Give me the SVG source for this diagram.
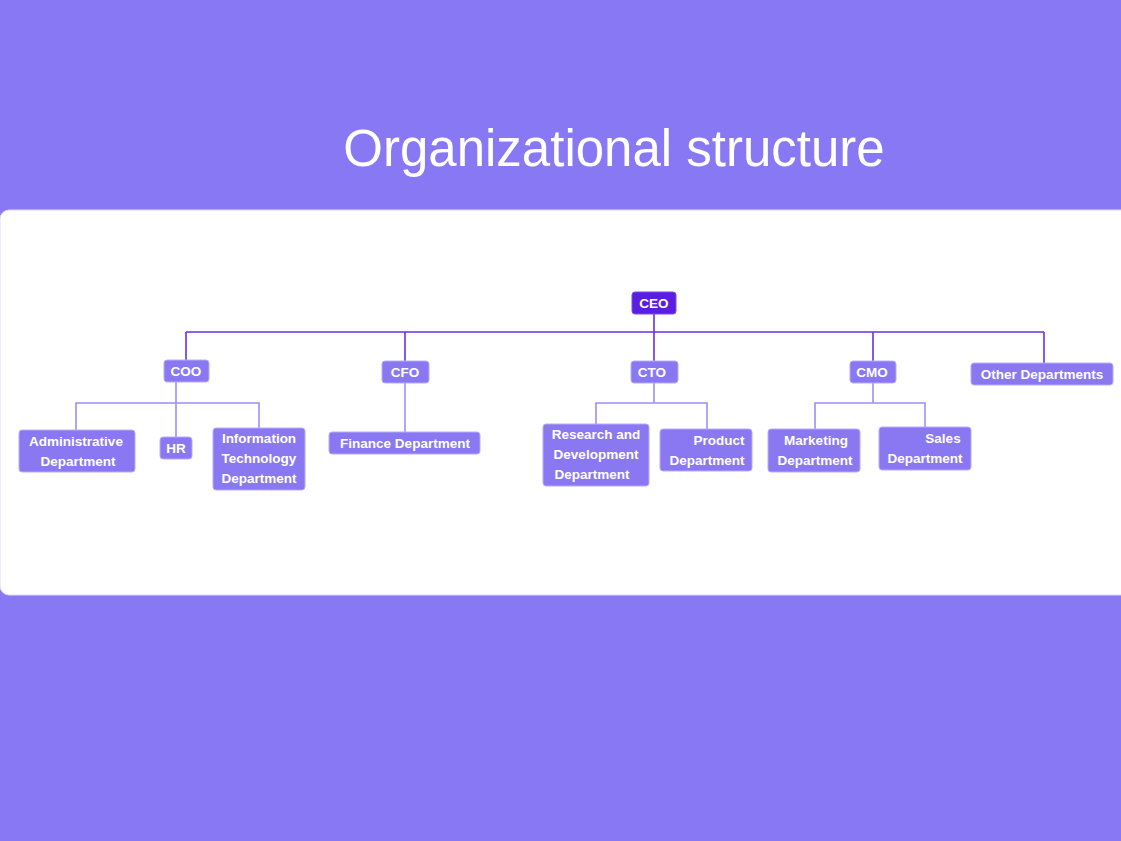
<svg xmlns="http://www.w3.org/2000/svg" width="1121" height="841" viewBox="0 0 1121 841">
<style>
.b{fill:#8a78f2;stroke:#b7acf8;stroke-width:1}
.t{fill:#fff;font-family:"Liberation Sans",Arial,sans-serif;font-weight:bold;font-size:13.5px;text-anchor:middle}
.m{stroke:#6a2fe8;stroke-width:1.6;fill:none}
.s{stroke:#9d8ff5;stroke-width:1.6;fill:none}
</style>
<rect width="1121" height="841" fill="#8878f3"/>
<rect x="0" y="210" width="1140" height="385" rx="9" fill="#fff" stroke="#ddd8fb"/>
<text x="614" y="166" font-family="Liberation Sans,Arial,sans-serif" font-size="51" fill="#fff" text-anchor="middle">Organizational structure</text>
<g id="connectors">
<path class="m" d="M186 332H1044M654 314V361M186 332V360M405 332V361M873 332V361M1044 332V363"/>
<path class="s" d="M176 382V437M76 430V403H259V428M405 383V432M654 383V403M596 424V403H707V429M873 383V403M815 429V403H925V427"/>
</g>
<g id="ceo"><rect x="632" y="292" width="44" height="22" rx="3" fill="#5a1ee0" stroke="#7a4cf0"/><text class="t" x="654" y="308">CEO</text></g>
<g id="coo"><rect class="b" x="164" y="360" width="45" height="22" rx="3"/><text class="t" x="186" y="376">COO</text></g>
<g id="cfo"><rect class="b" x="382" y="361" width="47" height="22" rx="3"/><text class="t" x="405" y="377">CFO</text></g>
<g id="cto"><rect class="b" x="631" y="361" width="47" height="22" rx="3"/><text class="t" x="652" y="377">CTO</text></g>
<g id="cmo"><rect class="b" x="850" y="361" width="46" height="22" rx="3"/><text class="t" x="872" y="377">CMO</text></g>
<g id="other"><rect class="b" x="971" y="363" width="142" height="22" rx="3"/><text class="t" x="1042" y="379">Other Departments</text></g>
<g id="admin"><rect class="b" x="19" y="430" width="116" height="42" rx="3"/><text class="t" x="76" y="446">Administrative</text><text class="t" x="78" y="466">Department</text></g>
<g id="hr"><rect class="b" x="160" y="437" width="32" height="22" rx="3"/><text class="t" x="176" y="453">HR</text></g>
<g id="it"><rect class="b" x="213" y="428" width="92" height="62" rx="3"/><text class="t" x="259" y="443">Information</text><text class="t" x="259" y="463">Technology</text><text class="t" x="259" y="483">Department</text></g>
<g id="finance"><rect class="b" x="329" y="432" width="151" height="22" rx="3"/><text class="t" x="405" y="448">Finance Department</text></g>
<g id="rd"><rect class="b" x="543" y="424" width="106" height="62" rx="3"/><text class="t" x="596" y="439">Research and</text><text class="t" x="596" y="459">Development</text><text class="t" x="592" y="479">Department</text></g>
<g id="product"><rect class="b" x="660" y="429" width="92" height="42" rx="3"/><text class="t" x="719" y="445">Product</text><text class="t" x="707" y="465">Department</text></g>
<g id="marketing"><rect class="b" x="768" y="429" width="92" height="43" rx="3"/><text class="t" x="816" y="445">Marketing</text><text class="t" x="815" y="465">Department</text></g>
<g id="sales"><rect class="b" x="879" y="427" width="92" height="43" rx="3"/><text class="t" x="943" y="443">Sales</text><text class="t" x="925" y="463">Department</text></g>
</svg>
